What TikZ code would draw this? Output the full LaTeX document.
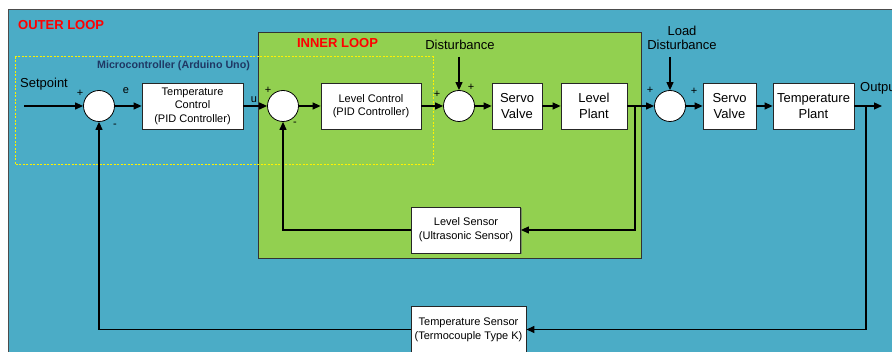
\documentclass[tikz,border=0pt]{standalone}
\usepackage{fontspec}
\setmainfont{Liberation Sans}
\usepackage{tikz}
\usetikzlibrary{arrows.meta}
\usetikzlibrary{shadows}
\usepackage{xcolor}
\definecolor{outerblue}{HTML}{4BACC6}
\definecolor{innergreen}{HTML}{92D050}
\definecolor{mcunavy}{HTML}{1F3864}

\begin{document}
\begin{tikzpicture}[
    x=1pt, y=-1pt,
    blk/.style={draw=black!85, fill=white, line width=0.8pt, minimum height=46pt, align=center, inner sep=1pt,
        font=\fontsize{13}{15.5}\selectfont, drop shadow={shadow xshift=1pt, shadow yshift=-1pt, fill=black!60, opacity=0.6}},
    smallblk/.style={blk, font=\fontsize{11}{13.5}\selectfont},
    sumnode/.style={circle, draw=black, fill=white, minimum size=31pt, inner sep=0pt, line width=0.8pt},
    sig/.style={-{Triangle[length=8pt,width=7pt]}, line width=1.2pt},
    wire/.style={line width=1.2pt},
    sgn/.style={font=\fontsize{11}{11}\selectfont, inner sep=0pt},
    txt/.style={font=\fontsize{13}{14}\selectfont, inner sep=0pt, align=center},
    looplabel/.style={font=\fontsize{13}{13}\selectfont\bfseries, text=red, inner sep=0pt}
]
    \useasboundingbox (0,0) rectangle (892,352);
    \fill[white] (0,0) rectangle (892,352);

    % Loop regions
    \filldraw[fill=outerblue, draw=black!70, line width=1pt] (8.5,10) rectangle (905,365);
    \filldraw[fill=innergreen, draw=black!80, line width=0.8pt] (258.5,32) rectangle (641.7,258.3);
    \draw[yellow, dashed, dash pattern=on 2pt off 1.5pt, line width=1pt] (15,57) rectangle (433,165);

    \node[looplabel, anchor=west] (outer) at (18,25) {OUTER LOOP};
    \node[looplabel] (inner) at (337.5,43) {INNER LOOP};
    \node[font=\fontsize{10.7}{11}\selectfont\bfseries, text=mcunavy, inner sep=0pt] (mcu) at (173.5,66) {Microcontroller (Arduino Uno)};

    % Forward path
    \coordinate (setin) at (24,106);
    \node[txt] (setpoint) at (44,84) {Setpoint};
    \node[sumnode] (sumA) at (99,106) {};
    \node[smallblk, minimum width=101pt] (tc) at (192.5,106) {Temperature\\Control\\(PID Controller)};
    \node[sumnode] (sumB) at (283,106) {};
    \node[smallblk, minimum width=100pt] (lc) at (371,106) {Level Control\\(PID Controller)};
    \node[sumnode] (sumC) at (459,106) {};
    \node[blk, minimum width=50pt] (sv1) at (517,106) {Servo\\Valve};
    \node[blk, minimum width=66pt] (lp) at (594,106) {Level\\Plant};
    \node[sumnode] (sumD) at (670,106) {};
    \node[blk, minimum width=53pt] (sv2) at (729.5,106) {Servo\\Valve};
    \node[blk, minimum width=81pt] (tp) at (813.5,106) {Temperature\\Plant};
    \coordinate (out) at (882,106);
    \node[txt, anchor=west] (output) at (860,88) {Output};

    % Sensors
    \node[smallblk, minimum width=109pt, font=\fontsize{11}{14}\selectfont] (ls) at (466,230) {Level Sensor\\(Ultrasonic Sensor)};
    \node[smallblk, minimum width=115pt, font=\fontsize{11}{14}\selectfont] (ts) at (468.5,329.5) {Temperature Sensor\\(Termocouple Type K)};

    % Disturbances
    \node[txt] (dist) at (460,45) {Disturbance};
    \coordinate (disttop) at (459,57);
    \node[txt] (ldist) at (682,38) {Load\\Disturbance};
    \coordinate (ldisttop) at (670,57);

    % Signals
    \draw[sig] (setin) -- (sumA);
    \draw[sig] (sumA) -- (tc);
    \draw[sig] (tc) -- (sumB);
    \draw[sig] (sumB) -- (lc);
    \draw[sig] (lc) -- (sumC);
    \draw[sig] (sumC) -- (sv1);
    \draw[sig] (sv1) -- (lp);
    \draw[sig] (lp) -- (sumD);
    \draw[sig] (sumD) -- (sv2);
    \draw[sig] (sv2) -- (tp);
    \draw[sig] (tp) -- (out);
    \draw[sig] (disttop) -- (sumC);
    \draw[sig] (ldisttop) -- (sumD);

    % Feedback
    \coordinate (brA) at (635,106);
    \coordinate (brB) at (866,106);
    \draw[sig] (brA) |- (ls.east);
    \draw[sig] (ls.west) -| (sumB.south);
    \draw[sig] (brB) |- (ts.east);
    \draw[sig] (ts.west) -| (sumA.south);

    % Signs
    \node[sgn] (pA) at (80,93) {+};
    \node[sgn] (mA) at (115,126) {-};
    \node[sgn] (e) at (126,91) {e};
    \node[sgn] (u) at (254,100) {u};
    \node[sgn] (pB) at (268,90) {+};
    \node[sgn] (mB) at (295,124) {-};
    \node[sgn] (pC) at (437,94) {+};
    \node[sgn] (pCtop) at (471,87) {+};
    \node[sgn] (pD) at (650,90) {+};
    \node[sgn] (pDr) at (694,91) {+};
\end{tikzpicture}
\end{document}
